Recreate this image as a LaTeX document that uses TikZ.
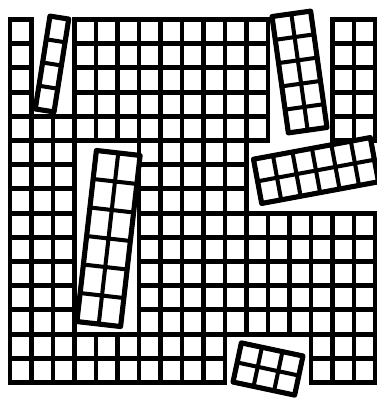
\documentclass[tikz,border=0pt]{standalone}
\usepackage{tikz}

\begin{document}
\begin{tikzpicture}[x=0.02cm, y=-0.02cm,
    gridv/.style={line width=2.35pt},
    gridh/.style={line width=2.95pt},
    hole/.style={fill=white},
    blockline/.style={line width=2.3pt},
    blockedge/.style={line width=2.9pt, line join=round}
]
\useasboundingbox (0,0) rectangle (377,400);

% Grid: 17 columns, 15 rows
\foreach \k in {0,...,17}
  \draw[gridv] ({10+21.5*\k},16.9) -- ({10+21.5*\k},385.1);
\foreach \j in {0,...,15}
  \draw[gridh] (7.9,{19.5+24.2*\j}) -- (377.6,{19.5+24.2*\j});

% Holes left where the blocks came out
\fill[hole] (33.6,15) rectangle (72.4,113.7);
\fill[hole] (270.1,15) rectangle (330.4,143.1);
\fill[hole] (248.6,143.1) rectangle (380,210.5);
\fill[hole] (76.6,143.1) rectangle (136.9,331.5);
\fill[hole] (227.1,336.7) rectangle (308.9,392);

% Loose blocks: centre / angle / columns / rows / cell size
\foreach \cx/\cy/\ang/\nc/\nr/\cw/\ch in {52/64/-9/1/4/19/23.5,
    299.5/72/8/2/5/19.5/23.5,
    316/170.5/10.5/6/2/19.8/22.5,
    108.5/238.5/-6.5/2/6/22/28.7,
    268/369/-12/3/2/21/20} {
  \begin{scope}[shift={(\cx,\cy)}, rotate=\ang]
    \pgfmathsetmacro\hx{\nc*\cw/2}
    \pgfmathsetmacro\hy{\nr*\ch/2}
    \fill[white] (-\hx,-\hy) rectangle (\hx,\hy);
    \foreach \i in {0,...,\nc}
      \draw[blockline] ({-\hx+\i*\cw},-\hy) -- ({-\hx+\i*\cw},\hy);
    \foreach \i in {0,...,\nr}
      \draw[blockline] (-\hx,{-\hy+\i*\ch}) -- (\hx,{-\hy+\i*\ch});
    \draw[blockedge] (-\hx,-\hy) rectangle (\hx,\hy);
  \end{scope}
}

\end{tikzpicture}
\end{document}
